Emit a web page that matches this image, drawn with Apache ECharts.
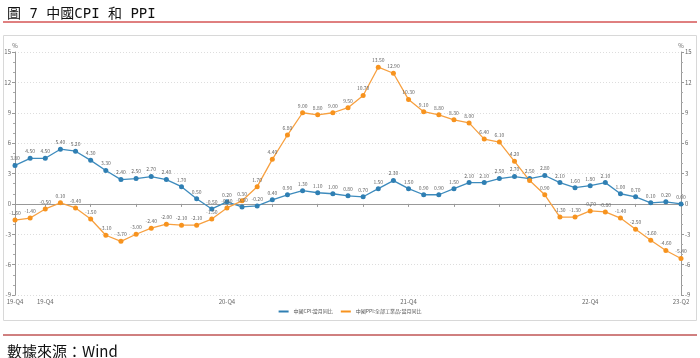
<!DOCTYPE html>
<html><head><meta charset="utf-8">
<script src="https://cdn.jsdelivr.net/npm/echarts@6/dist/echarts.min.js"></script>
<style>html,body{margin:0;padding:0;background:#fff}#c{width:700px;height:358px}</style>
</head><body><div id="c"></div>
<script>
const months = ["2019-10","2019-11","2019-12","2020-01","2020-02","2020-03","2020-04","2020-05","2020-06","2020-07","2020-08","2020-09","2020-10","2020-11","2020-12","2021-01","2021-02","2021-03","2021-04","2021-05","2021-06","2021-07","2021-08","2021-09","2021-10","2021-11","2021-12","2022-01","2022-02","2022-03","2022-04","2022-05","2022-06","2022-07","2022-08","2022-09","2022-10","2022-11","2022-12","2023-01","2023-02","2023-03","2023-04","2023-05","2023-06"];
const cpi = [3.8,4.5,4.5,5.4,5.2,4.3,3.3,2.4,2.5,2.7,2.4,1.7,0.5,-0.5,0.2,-0.3,-0.2,0.4,0.9,1.3,1.1,1.0,0.8,0.7,1.5,2.3,1.5,0.9,0.9,1.5,2.1,2.1,2.5,2.7,2.5,2.8,2.1,1.6,1.8,2.1,1.0,0.7,0.1,0.2,0.0];
const ppi = [-1.6,-1.4,-0.5,0.1,-0.4,-1.5,-3.1,-3.7,-3.0,-2.4,-2.0,-2.1,-2.1,-1.5,-0.4,0.3,1.7,4.4,6.8,9.0,8.8,9.0,9.5,10.7,13.5,12.9,10.3,9.1,8.8,8.3,8.0,6.4,6.1,4.2,2.3,0.9,-1.3,-1.3,-0.7,-0.8,-1.4,-2.5,-3.6,-4.6,-5.4];
const labelIdx = [0,2,14,26,38,44];
const seriesNames = ["中國CPI:當月同比","中國PPI:全部工業品:當月同比"];
const yTicks = {min:-9,max:15,interval:3};

function qLabel(m){const y=m.slice(2,4);const mo=+m.slice(5,7);return y+"-Q"+Math.ceil(mo/3);}

const chart = echarts.init(document.getElementById('c'),null,{renderer:'canvas'});
const lblStyle = {show:true,position:'top',fontSize:5,color:'#666',distance:2,formatter:p=>p.value.toFixed(2)};
const yAxisBase = {type:'value',min:yTicks.min,max:yTicks.max,interval:yTicks.interval,name:'%',
  nameTextStyle:{fontSize:6,color:'#666',padding:[0,0,-4,0]},nameGap:6,
  axisLine:{show:true,lineStyle:{color:'#999',width:1}},
  axisTick:{show:true,length:3,lineStyle:{color:'#999'}},
  minorTick:{show:true,splitNumber:3,length:2,lineStyle:{color:'#aaa'}},
  axisLabel:{fontSize:6,color:'#666',margin:4},
  splitLine:{show:true,lineStyle:{color:'#ddd',type:[1,2]}}};
const headFont = '"DejaVu Sans Mono", "Noto Sans CJK TC", monospace';
chart.setOption({
  animation:false,
  textStyle:{fontFamily:'"Noto Sans CJK TC", "Noto Sans", sans-serif'},
  grid:{left:15,right:19,top:52,bottom:63},
  title:[
    {text:'圖 7 中國CPI 和 PPI',left:2,top:2,textStyle:{fontSize:14,fontWeight:'normal',color:'#111',fontFamily:headFont}},
    {text:'數據來源：Wind',left:2,top:339,textStyle:{fontSize:15,fontWeight:'normal',color:'#111',fontFamily:'"Noto Sans CJK TC", sans-serif'}}
  ],
  graphic:[
    {type:'line',shape:{x1:3,y1:22,x2:697,y2:22},style:{stroke:'#c00000',lineWidth:1}},
    {type:'rect',shape:{x:3.5,y:35.5,width:693,height:285},style:{fill:'none',stroke:'#d8d8d8',lineWidth:1},z:-1},
    {type:'line',shape:{x1:3,y1:335,x2:697,y2:335},style:{stroke:'#a00000',lineWidth:1}}
  ],
  legend:{bottom:39,left:'center',itemWidth:10,itemHeight:2,itemGap:8,icon:'rect',
    textStyle:{fontSize:5,color:'#555'},data:seriesNames},
  xAxis:{type:'category',data:months,boundaryGap:false,
    axisLine:{lineStyle:{color:'#999'}},
    axisTick:{show:true,length:3,alignWithLabel:true,interval:(i)=>i>=2&&(i-2)%3===0,lineStyle:{color:'#999'}},
    axisLabel:{fontSize:6,color:'#666',margin:4,interval:(i)=>labelIdx.includes(i),formatter:v=>qLabel(v),showMinLabel:true,showMaxLabel:true},
    splitLine:{show:false}},
  yAxis:[Object.assign({},yAxisBase,{position:'left',nameLocation:'end'}),
         Object.assign({},yAxisBase,{position:'right',splitLine:{show:false}})],
  series:[
    {name:seriesNames[0],type:'line',data:cpi,yAxisIndex:0,symbol:'circle',symbolSize:5,
      lineStyle:{color:'#3d8bbd',width:1.3},itemStyle:{color:'#2f7fb3'},label:lblStyle,labelLayout:{hideOverlap:true}},
    {name:seriesNames[1],type:'line',data:ppi,yAxisIndex:0,symbol:'circle',symbolSize:5,
      lineStyle:{color:'#f7a040',width:1.3},itemStyle:{color:'#f7931e'},label:lblStyle,labelLayout:{hideOverlap:true}}
  ]
});
</script></body></html>
